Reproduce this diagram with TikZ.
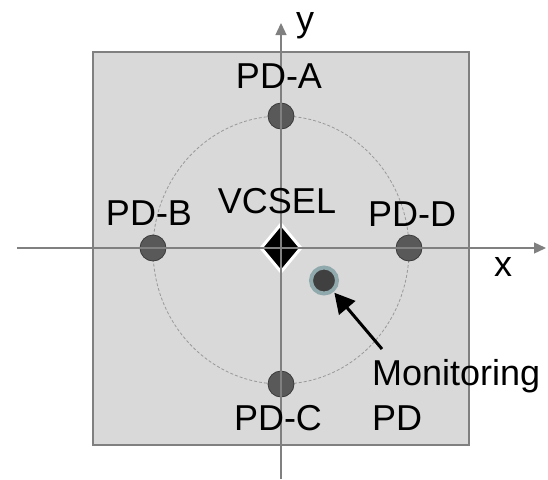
\documentclass[tikz,border=0pt]{standalone}
\usepackage{fontspec}
\setmainfont{Liberation Sans}
\usetikzlibrary{shapes.geometric,arrows.meta}
\definecolor{boxfill}{HTML}{D9D9D9}
\definecolor{axisgray}{HTML}{808080}
\definecolor{pdfill}{HTML}{595959}
\definecolor{pdedge}{HTML}{3A3A3A}
\definecolor{ringcol}{HTML}{8FA9AC}
\definecolor{monfill}{HTML}{404040}
\begin{document}
\begin{tikzpicture}[x=1pt,y=-1pt,
  lbl/.style={font=\fontsize{36}{40}\selectfont, inner sep=0pt, anchor=base},
  pd/.style={circle, minimum size=26pt, inner sep=0pt, fill=pdfill, draw=pdedge, line width=0.8pt},
  monpd/.style={circle, minimum size=26pt, inner sep=0pt, fill=monfill, draw=ringcol, line width=4pt},
  vcsel/.style={diamond, minimum width=41pt, minimum height=49pt, inner sep=0pt, fill=black, draw=white, line width=3pt},
  axis/.style={draw=axisgray, line width=1.3pt, -{Triangle[length=12pt,width=11pt]}},
  pointer/.style={draw=black, line width=3pt, -{Triangle[length=20pt,width=21pt]}, shorten >=1pt}
]
\useasboundingbox (0,0) rectangle (548,479);
% chip
\draw[fill=boxfill, draw=axisgray, line width=1.5pt] (93,52) rectangle (469,445);
% dashed circle
\draw[draw=axisgray!80, dashed, dash pattern=on 3pt off 2pt, line width=0.8pt] (281,250) ellipse [x radius=128, y radius=134];
% photodiodes
\node[pd] (pda) at (281,116) {};
\node[pd] (pdb) at (153,248) {};
\node[pd] (pdc) at (281,384) {};
\node[pd] (pdd) at (409,248) {};
% VCSEL
\node[vcsel] (vc) at (281,248) {};
% monitoring PD
\node[monpd] (mon) at (324,280.5) {};
% axes
\coordinate (xs) at (17,248);
\coordinate (xe) at (546,248);
\coordinate (ys) at (281,479);
\coordinate (ye) at (281,23);
\draw[axis] (xs) -- (xe);
\draw[axis] (ys) -- (ye);
% pointer
\coordinate (ptail) at (382,349);
\draw[pointer] (ptail) -- (mon);
% labels
\node[lbl, anchor=base west] (ly) at (296,31) {y};
\node[lbl] (lx) at (503,276) {x};
\node[lbl] (la) at (279,88) {PD-A};
\node[lbl] (lb) at (149,225) {PD-B};
\node[lbl] (lc) at (278,430) {PD-C};
\node[lbl] (ld) at (412,226) {PD-D};
\node[lbl] (lv) at (277,213) {VCSEL};
\node[lbl, anchor=base west] (lm1) at (372,385) {Monitoring};
\node[lbl, anchor=base west] (lm2) at (372,430) {PD};
\end{tikzpicture}
\end{document}
